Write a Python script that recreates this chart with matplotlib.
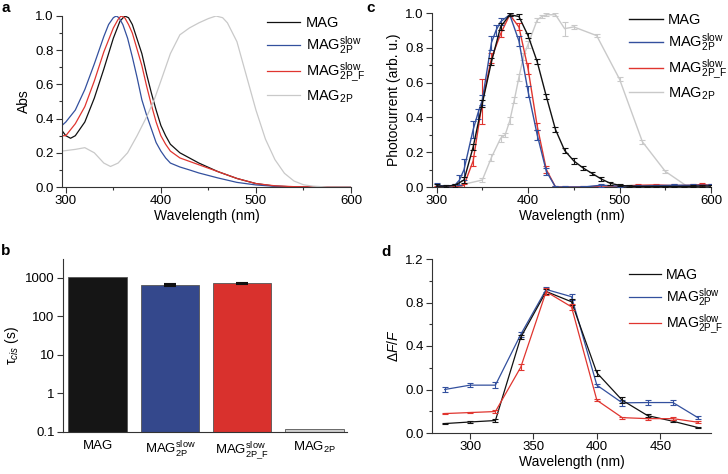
import numpy as np
import matplotlib
matplotlib.use("Agg")
import matplotlib.pyplot as plt
from matplotlib.ticker import MultipleLocator, FixedLocator, NullLocator

plt.rcParams['font.family'] = ['Liberation Sans', 'DejaVu Sans']
plt.rcParams['mathtext.fontset'] = 'custom'
plt.rcParams['mathtext.rm'] = 'Liberation Sans'
plt.rcParams['mathtext.it'] = 'Liberation Sans:italic'
plt.rcParams['mathtext.default'] = 'regular'
plt.rcParams['font.size'] = 9.5
plt.rcParams['axes.linewidth'] = 0.8
plt.rcParams['axes.edgecolor'] = '#333333'

# 图例名称
labels = ['MAG', r'MAG$^{slow}_{2P}$', r'MAG$^{slow}_{2P\_F}$', r'MAG$_{2P}$']
colors = ['#111111', '#33509e', '#e0352f', '#c9c9c9']

# a: 吸收光谱
wl_a_blue = [296, 300, 310, 320, 330, 340, 345, 350, 353, 356, 360, 365, 370, 375, 380, 385, 390, 395, 400, 405, 410, 420, 430, 440, 460, 480, 500, 520, 540, 600]
abs_blue = [0.36, 0.38, 0.45, 0.57, 0.72, 0.88, 0.95, 0.99, 1.0, 0.99, 0.95, 0.87, 0.76, 0.64, 0.51, 0.42, 0.34, 0.26, 0.21, 0.17, 0.14, 0.117, 0.10, 0.082, 0.053, 0.027, 0.012, 0.004, 0.001, 0.0]
wl_a_red = [296, 300, 310, 320, 330, 340, 350, 355, 358, 362, 366, 370, 380, 385, 390, 395, 400, 405, 410, 420, 430, 440, 460, 480, 500, 520, 540, 600]
abs_red = [0.30, 0.30, 0.37, 0.47, 0.62, 0.79, 0.93, 0.98, 1.0, 0.99, 0.95, 0.90, 0.71, 0.59, 0.48, 0.38, 0.30, 0.25, 0.21, 0.17, 0.15, 0.13, 0.09, 0.05, 0.02, 0.007, 0.002, 0.0]
wl_a_black = [296, 300, 305, 310, 320, 330, 340, 350, 357, 362, 366, 370, 380, 385, 390, 395, 400, 405, 410, 420, 430, 440, 460, 480, 500, 520, 540, 600]
abs_black = [0.33, 0.30, 0.285, 0.30, 0.38, 0.52, 0.69, 0.87, 0.97, 1.0, 0.99, 0.95, 0.78, 0.66, 0.55, 0.45, 0.36, 0.30, 0.25, 0.20, 0.17, 0.14, 0.09, 0.05, 0.02, 0.005, 0.001, 0.0]
wl_a_gray = [296, 310, 320, 330, 340, 347, 355, 365, 375, 385, 393, 400, 410, 420, 430, 440, 450, 458, 465, 470, 480, 490, 500, 510, 520, 530, 540, 550, 560, 575, 600]
abs_gray = [0.21, 0.22, 0.23, 0.20, 0.14, 0.12, 0.14, 0.20, 0.30, 0.41, 0.51, 0.62, 0.78, 0.89, 0.93, 0.96, 0.985, 1.0, 0.99, 0.96, 0.85, 0.65, 0.45, 0.28, 0.16, 0.08, 0.035, 0.013, 0.005, 0.0, 0.0]

# b: 热弛豫时间
tau_vals = [1080, 660, 730, 0.117]
tau_err = [0, 25, 25, 0]
bar_colors = ['#151515', '#34488c', '#d9312d', '#cfcfcf']

# c: 光电流作用光谱
wl_c_black = [300, 310, 320, 330, 340, 350, 360, 370, 380, 390, 400, 410, 420, 430, 440, 450, 460, 470, 480, 490, 500, 510, 520, 530, 540, 550, 560, 570, 580, 590, 600]
pc_black = [0.005, 0.005, 0.01, 0.04, 0.23, 0.48, 0.72, 0.92, 0.99, 0.98, 0.87, 0.72, 0.52, 0.33, 0.21, 0.15, 0.11, 0.078, 0.046, 0.021, 0.01, 0.005, 0.003, 0.003, 0.003, 0.003, 0.003, 0.003, 0.004, 0.005, 0.005]
err_black = [0.01, 0.005, 0.01, 0.015, 0.02, 0.02, 0.02, 0.02, 0.01, 0.015, 0.015, 0.015, 0.015, 0.015, 0.015, 0.015, 0.01, 0.01, 0.01, 0.01, 0.005, 0.005, 0.005, 0.005, 0.005, 0.005, 0.005, 0.005, 0.005, 0.005, 0.005]
wl_c_blue = [300, 310, 320, 325, 330, 340, 345, 350, 360, 365, 370, 380, 390, 400, 410, 420, 430, 440, 460, 480, 500, 520, 540, 560, 580, 600]
pc_blue = [0.01, 0.005, 0.01, 0.04, 0.10, 0.33, 0.42, 0.50, 0.83, 0.90, 0.95, 0.99, 0.84, 0.55, 0.30, 0.09, 0.0, 0.0, 0.0, 0.01, 0.005, 0.005, 0.008, 0.01, 0.01, 0.01]
err_blue = [0.015, 0.005, 0.01, 0.03, 0.06, 0.05, 0.03, 0.03, 0.04, 0.03, 0.02, 0.01, 0.03, 0.03, 0.03, 0.02, 0.005, 0.003, 0.003, 0.01, 0.005, 0.005, 0.005, 0.005, 0.005, 0.01]
wl_c_red = [300, 320, 330, 340, 350, 360, 370, 380, 390, 400, 410, 420, 430, 440, 460, 480, 500, 520, 540, 560, 580, 590, 600]
pc_red = [0.0, 0.0, 0.01, 0.15, 0.49, 0.74, 0.88, 0.99, 0.92, 0.68, 0.35, 0.10, 0.0, 0.0, 0.0, 0.005, 0.005, 0.01, 0.012, 0.008, 0.01, 0.015, 0.01]
err_red = [0.003, 0.003, 0.01, 0.03, 0.13, 0.03, 0.02, 0.01, 0.02, 0.03, 0.02, 0.02, 0.003, 0.003, 0.003, 0.005, 0.005, 0.008, 0.008, 0.008, 0.008, 0.01, 0.01]
wl_c_gray = [300, 325, 350, 360, 370, 375, 380, 385, 390, 395, 400, 410, 415, 420, 430, 440, 450, 475, 500, 525, 550, 575]
pc_gray = [0.0, 0.01, 0.04, 0.17, 0.28, 0.30, 0.38, 0.50, 0.63, 0.75, 0.82, 0.96, 0.98, 0.99, 0.99, 0.91, 0.92, 0.87, 0.62, 0.26, 0.09, 0.0]
err_gray = [0.005, 0.005, 0.01, 0.02, 0.02, 0.01, 0.02, 0.02, 0.02, 0.02, 0.02, 0.01, 0.01, 0.01, 0.01, 0.04, 0.01, 0.01, 0.01, 0.01, 0.01, 0.005]

# d: 荧光变化 (纵轴刻度按原图标注)
wl_d = [280, 300, 320, 340, 360, 380, 400, 420, 440, 460, 480]
df_black = [0.065, 0.076, 0.086, 0.66, 0.976, 0.905, 0.415, 0.226, 0.12, 0.081, 0.037]
df_blue = [0.30, 0.33, 0.33, 0.68, 0.99, 0.94, 0.33, 0.208, 0.21, 0.21, 0.104]
df_red = [0.134, 0.141, 0.148, 0.454, 0.975, 0.87, 0.226, 0.106, 0.099, 0.099, 0.074]
dferr_black = [0.005, 0.005, 0.01, 0.015, 0.015, 0.02, 0.02, 0.02, 0.008, 0.008, 0.005]
dferr_blue = [0.015, 0.015, 0.02, 0.015, 0.015, 0.02, 0.01, 0.02, 0.015, 0.015, 0.01]
dferr_red = [0.006, 0.006, 0.008, 0.02, 0.025, 0.02, 0.008, 0.006, 0.006, 0.01, 0.008]
d_tick_pos = [0.0, 0.3, 0.6, 0.9, 1.2]
d_tick_labels = ['0.0', '0.0', '0.4', '0.8', '1.2']

W, H = 728, 474
fig = plt.figure(figsize=(W / 100, H / 100), dpi=100)

FS_TICK = 9.5
FS_LAB = 10
FS_LEG = 10.5


def axes_px(left, right, top, bottom):
    return fig.add_axes([left / W, 1 - bottom / H, (right - left) / W, (bottom - top) / H])


def style(ax):
    for s in ['top', 'right']:
        ax.spines[s].set_visible(False)
    ax.tick_params(which='major', direction='out', length=4, width=0.8, labelsize=FS_TICK, pad=2, color='#333333')
    ax.tick_params(which='minor', direction='out', length=2.5, width=0.8, color='#333333')


def add_legend(ax, handles, names, x, y, fs=FS_LEG):
    ax.legend(handles, names, loc='upper left', bbox_to_anchor=(x, y), frameon=False, fontsize=fs,
              handlelength=2.3, handletextpad=0.35, borderpad=0, borderaxespad=0, labelspacing=0.3)


# ---- a ----
ax_a = axes_px(62, 351, 16, 187)
lw = 0.9
ax_a.plot(wl_a_black, abs_black, color=colors[0], lw=lw, label=labels[0])
ax_a.plot(wl_a_blue, abs_blue, color=colors[1], lw=lw, label=labels[1])
ax_a.plot(wl_a_red, abs_red, color=colors[2], lw=lw, label=labels[2])
ax_a.plot(wl_a_gray, abs_gray, color=colors[3], lw=lw, label=labels[3])
ax_a.set_xlim(296, 600)
ax_a.set_ylim(0, 1.0)
ax_a.xaxis.set_major_locator(MultipleLocator(100))
ax_a.xaxis.set_minor_locator(MultipleLocator(50))
ax_a.yaxis.set_major_locator(MultipleLocator(0.2))
ax_a.yaxis.set_minor_locator(MultipleLocator(0.1))
ax_a.yaxis.set_major_formatter(plt.FuncFormatter(lambda v, _: f'{v:.1f}'))
ax_a.set_xlabel('Wavelength (nm)', fontsize=FS_LAB, labelpad=1)
ax_a.set_ylabel('Abs', fontsize=FS_LAB, labelpad=3)
style(ax_a)
h, l = ax_a.get_legend_handles_labels()
add_legend(ax_a, h, l, 0.709, 1.0)

# ---- c ----
ax_c = axes_px(432, 711, 13, 187)
ek = dict(lw=1.0, capsize=2, elinewidth=0.8, capthick=0.8)
ax_c.errorbar(wl_c_gray, pc_gray, yerr=err_gray, color=colors[3], label=labels[3], zorder=1, **ek)
ax_c.errorbar(wl_c_black, pc_black, yerr=err_black, color=colors[0], label=labels[0], zorder=4, **ek)
ax_c.errorbar(wl_c_blue, pc_blue, yerr=err_blue, color=colors[1], label=labels[1], zorder=3, **ek)
ax_c.errorbar(wl_c_red, pc_red, yerr=err_red, color=colors[2], label=labels[2], zorder=2, **ek)
ax_c.set_xlim(295, 600)
ax_c.set_ylim(0, 1.0)
ax_c.xaxis.set_major_locator(MultipleLocator(100))
ax_c.xaxis.set_minor_locator(MultipleLocator(50))
ax_c.yaxis.set_major_locator(MultipleLocator(0.2))
ax_c.yaxis.set_minor_locator(MultipleLocator(0.1))
ax_c.yaxis.set_major_formatter(plt.FuncFormatter(lambda v, _: f'{v:.1f}'))
ax_c.set_xlabel('Wavelength (nm)', fontsize=FS_LAB, labelpad=1)
ax_c.set_ylabel('Photocurrent (arb. u.)', fontsize=FS_LAB, labelpad=3)
style(ax_c)
h, l = ax_c.get_legend_handles_labels()
order = [1, 2, 3, 0]
add_legend(ax_c, [h[i][0] for i in order], [l[i] for i in order], 0.706, 1.0)

# ---- b ----
ax_b = axes_px(63, 347, 259, 432)
xb = np.arange(len(tau_vals))
ax_b.bar(xb, tau_vals, width=0.81, color=bar_colors, edgecolor='#555555', linewidth=0.6)
has_err = [i for i, e in enumerate(tau_err) if e > 0]
ax_b.errorbar([xb[i] for i in has_err], [tau_vals[i] for i in has_err], yerr=[tau_err[i] for i in has_err],
              fmt='none', ecolor='#111111', capsize=4, elinewidth=0.8, capthick=1.5)
ax_b.set_yscale('log')
ax_b.set_ylim(0.1, 3100)
ax_b.set_xlim(-0.48, 3.45)
ax_b.yaxis.set_major_locator(FixedLocator([0.1, 1, 10, 100, 1000]))
ax_b.yaxis.set_minor_locator(NullLocator())
ax_b.set_yticklabels(['0.1', '1', '10', '100', '1000'])
ax_b.set_xticks(xb)
ax_b.set_xticklabels(labels, fontsize=FS_LAB)
style(ax_b)
ax_b.tick_params(axis='x', length=0, pad=6)
ax_b.set_ylabel(r'$\tau_{\mathit{cis}}$ (s)', fontsize=FS_LAB, labelpad=3)

# ---- d ----
ax_d = axes_px(432, 711, 259, 433)
ek_d = dict(lw=lw, capsize=2, elinewidth=0.8, capthick=0.8)
ax_d.errorbar(wl_d, df_black, yerr=dferr_black, color=colors[0], label=labels[0], zorder=3, **ek_d)
ax_d.errorbar(wl_d, df_blue, yerr=dferr_blue, color=colors[1], label=labels[1], zorder=2, **ek_d)
ax_d.errorbar(wl_d, df_red, yerr=dferr_red, color=colors[2], label=labels[2], zorder=4, **ek_d)
ax_d.set_xlim(270, 490)
ax_d.set_ylim(0, 1.2)
ax_d.xaxis.set_major_locator(MultipleLocator(50))
ax_d.yaxis.set_major_locator(FixedLocator(d_tick_pos))
ax_d.set_yticklabels(d_tick_labels)
ax_d.yaxis.set_minor_locator(MultipleLocator(0.15))
ax_d.set_xlabel('Wavelength (nm)', fontsize=FS_LAB, labelpad=1)
ax_d.set_ylabel(r'$\Delta\mathit{F}/\mathit{F}$', fontsize=FS_LAB, labelpad=3)
style(ax_d)
h, l = ax_d.get_legend_handles_labels()
add_legend(ax_d, [x[0] for x in h], l, 0.705, 0.95, fs=10.2)

# 面板字母
for txt, x, y in [('a', 1, 1), ('c', 366, 1), ('b', 1, 244), ('d', 381, 245)]:
    fig.text(x / W, 1 - y / H, txt, fontsize=11, fontweight='bold', va='top', ha='left')

fig.savefig('out.png', dpi=100)
